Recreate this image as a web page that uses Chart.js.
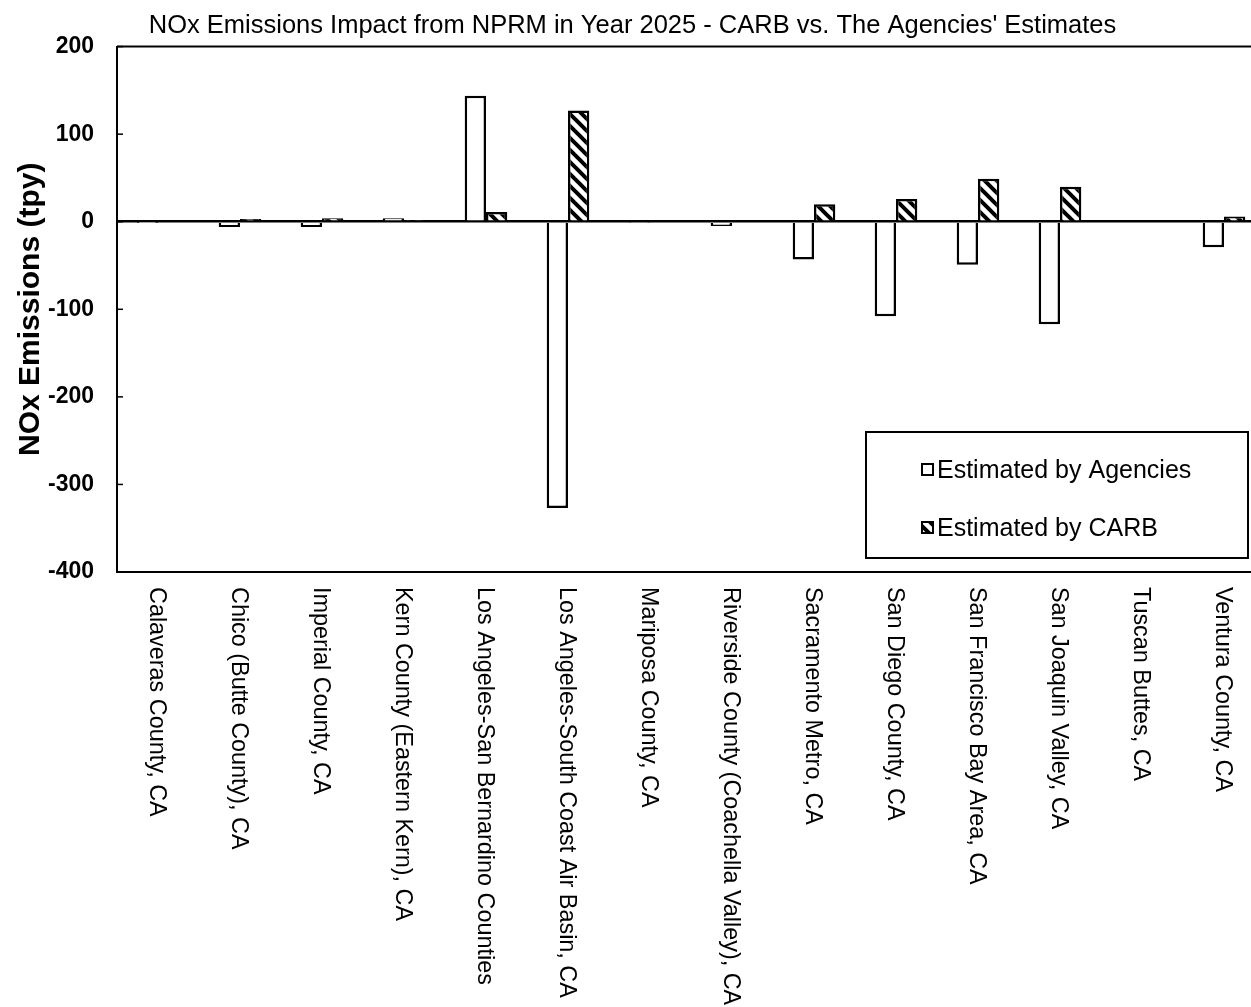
<!DOCTYPE html>
<html>
<head>
<meta charset="utf-8">
<script src="https://cdn.jsdelivr.net/npm/chart.js@4.4.1/dist/chart.umd.min.js"></script>
<style>
  html, body { margin: 0; padding: 0; background: #fff; overflow: hidden; }
  #wrap { width: 1268px; height: 1007px; }
</style>
</head>
<body>
<div id="wrap"><canvas id="c" width="1268" height="1007"></canvas></div>
<script>
const categories = [
  "Calaveras County, CA",
  "Chico (Butte County), CA",
  "Imperial County, CA",
  "Kern County (Eastern Kern), CA",
  "Los Angeles-San Bernardino Counties",
  "Los Angeles-South Coast Air Basin, CA",
  "Mariposa County, CA",
  "Riverside County (Coachella Valley), CA",
  "Sacramento Metro, CA",
  "San Diego County, CA",
  "San Francisco Bay Area, CA",
  "San Joaquin Valley, CA",
  "Tuscan Buttes, CA",
  "Ventura County, CA"
];
const agenciesValues = [-0.5, -6, -6, 4, 144, -327, -1, -5, -43, -108, -49, -117, 0, -29];
const carbValues     = [1.5, 3, 4, 2, 11, 127, 1.5, 1.5, 20, 26, 49, 40, 1.5, 6];
const seriesLabels = ["Estimated by Agencies", "Estimated by CARB"];
const chartTitle = "NOx Emissions Impact from NPRM in Year 2025 - CARB vs. The Agencies' Estimates";
const yAxisTitle = "NOx Emissions (tpy)";
const yMin = -400, yMax = 200, yStep = 100;

const FONT = '"Liberation Sans", Arial, Helvetica, sans-serif';

function makeHatch() {
  const s = 12;
  const c = document.createElement('canvas');
  c.width = s; c.height = s;
  const g = c.getContext('2d');
  g.fillStyle = '#fff';
  g.fillRect(0, 0, s, s);
  g.strokeStyle = '#000';
  g.lineWidth = 4;
  g.lineCap = 'square';
  g.beginPath();
  g.moveTo(-s, -s); g.lineTo(2 * s, 2 * s);
  g.moveTo(-s, 0); g.lineTo(s, 2 * s);
  g.moveTo(0, -s); g.lineTo(2 * s, s);
  g.stroke();
  return document.getElementById('c').getContext('2d').createPattern(c, 'repeat');
}
const hatch = makeHatch();

const decorPlugin = {
  id: 'decor',
  afterDraw(chart) {
    const ctx = chart.ctx;
    const a = chart.chartArea;
    const ys = chart.scales.y;
    const xs = chart.scales.x;
    ctx.save();
    // frame top / right
    ctx.strokeStyle = '#000';
    ctx.lineWidth = 2;
    ctx.beginPath();
    ctx.moveTo(a.left, a.top); ctx.lineTo(a.right, a.top); ctx.lineTo(a.right, a.bottom);
    ctx.stroke();
    // inner tick marks on y axis
    ctx.lineWidth = 1.5;
    ys.ticks.forEach(t => {
      const y = ys.getPixelForValue(t.value);
      ctx.beginPath(); ctx.moveTo(a.left, y); ctx.lineTo(a.left + 6, y); ctx.stroke();
    });
    // rotated category labels (reading top to bottom)
    ctx.fillStyle = '#000';
    ctx.font = '23.4px ' + FONT;
    ctx.textAlign = 'left';
    ctx.textBaseline = 'middle';
    categories.forEach((lab, i) => {
      const x = xs.getPixelForTick(i);
      ctx.save();
      ctx.translate(x - 2, a.bottom + 15);
      ctx.rotate(Math.PI / 2);
      ctx.fillText(lab, 0, 0);
      ctx.restore();
    });
    // legend box
    const L = a.right - 399, R = a.right - 17, T = a.bottom - 140, B = a.bottom - 14;
    ctx.fillStyle = '#fff';
    ctx.fillRect(L, T, R - L, B - T);
    ctx.strokeStyle = '#000';
    ctx.lineWidth = 2;
    ctx.strokeRect(L, T, R - L, B - T);
    const rows = [
      {label: seriesLabels[0], fill: '#fff', base: T + 46, mk: T + 32},
      {label: seriesLabels[1], fill: hatch, base: T + 104, mk: T + 90}
    ];
    rows.forEach(r => {
      ctx.fillStyle = r.fill;
      ctx.fillRect(L + 56, r.mk, 11, 11);
      ctx.lineWidth = 2;
      ctx.strokeStyle = '#000';
      ctx.strokeRect(L + 56, r.mk, 11, 11);
      ctx.fillStyle = '#000';
      ctx.font = '25px ' + FONT;
      ctx.textAlign = 'left';
      ctx.textBaseline = 'alphabetic';
      ctx.fillText(r.label, L + 71, r.base);
    });
    ctx.restore();
  }
};

new Chart(document.getElementById('c'), {
  type: 'bar',
  data: {
    labels: categories,
    datasets: [
      {
        label: seriesLabels[0],
        data: agenciesValues,
        backgroundColor: '#ffffff',
        borderColor: '#000000',
        borderWidth: 2.5,
        categoryPercentage: 0.52,
        barPercentage: 1.0
      },
      {
        label: seriesLabels[1],
        data: carbValues,
        backgroundColor: hatch,
        borderColor: '#000000',
        borderWidth: 2.5,
        categoryPercentage: 0.52,
        barPercentage: 1.0
      }
    ]
  },
  options: {
    responsive: false,
    animation: false,
    events: [],
    layout: { padding: { left: 0, right: 3, top: 0, bottom: 0 } },
    plugins: {
      legend: { display: false },
      tooltip: { enabled: false },
      title: {
        display: true,
        text: chartTitle,
        color: '#000',
        font: { family: FONT, size: 25.5, weight: 'normal' },
        padding: { top: 11, bottom: 5 }
      }
    },
    scales: {
      x: {
        grid: { display: false },
        border: { display: true, color: '#000', width: 2 },
        ticks: { display: false },
        afterFit(scale) { scale.height = 435; }
      },
      y: {
        min: yMin,
        max: yMax,
        ticks: {
          stepSize: yStep,
          color: '#000',
          padding: 23,
          font: { family: FONT, size: 23, weight: 'bold' }
        },
        grid: {
          drawTicks: false,
          color: ctx => (ctx.tick && ctx.tick.value === 0) ? '#000' : 'rgba(0,0,0,0)',
          lineWidth: ctx => (ctx.tick && ctx.tick.value === 0) ? 2.5 : 0
        },
        border: { display: true, color: '#000', width: 2 },
        title: {
          display: true,
          text: yAxisTitle,
          color: '#000',
          font: { family: FONT, size: 30, weight: 'bold' },
          padding: { top: 13, bottom: 0 }
        },
        afterFit(scale) { scale.width = 117; }
      }
    }
  },
  plugins: [decorPlugin]
});
</script>
</body>
</html>
